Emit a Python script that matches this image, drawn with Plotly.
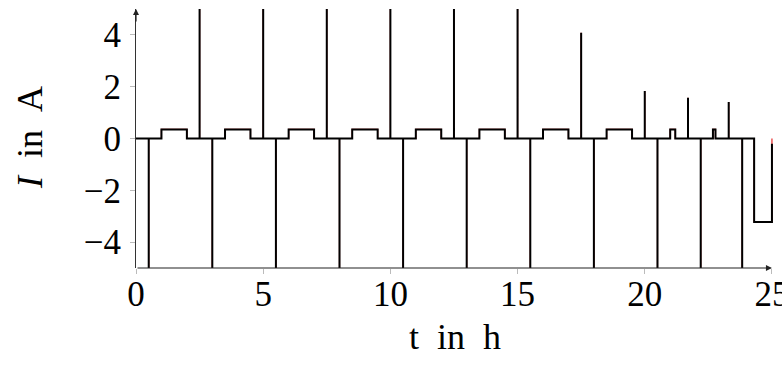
import plotly.graph_objects as go

# current profile I(t), drawn as a step line (hv); spikes are clipped by the axis range
t = [0, 0.5, 0.5, 1.0, 2.0, 2.5, 2.5,
     3.0, 3.0, 3.5, 4.5, 5.0, 5.0,
     5.5, 5.5, 6.0, 7.0, 7.5, 7.5,
     8.0, 8.0, 8.5, 9.5, 10.0, 10.0,
     10.5, 10.5, 11.0, 12.0, 12.5, 12.5,
     13.0, 13.0, 13.5, 14.5, 15.0, 15.0,
     15.5, 15.5, 16.0, 17.0, 17.5, 17.5,
     18.0, 18.0, 18.5, 19.5, 20.0, 20.0,
     20.5, 20.5, 21.0, 21.2, 21.7, 21.7,
     22.2, 22.2, 22.68, 22.78, 23.3, 23.3,
     23.83, 23.83, 24.3, 25.0]
I = [0, -6, 0, 0.35, 0, 6, 0,
     -6, 0, 0.35, 0, 6, 0,
     -6, 0, 0.35, 0, 6, 0,
     -6, 0, 0.35, 0, 6, 0,
     -6, 0, 0.35, 0, 6, 0,
     -6, 0, 0.35, 0, 6, 0,
     -6, 0, 0.35, 0, 4.08, 0,
     -6, 0, 0.35, 0, 1.83, 0,
     -6, 0, 0.35, 0, 1.57, 0,
     -6, 0, 0.35, 0, 1.41, 0,
     -6, 0, -3.22, 0]
I_black = I[:-1] + [-0.2]

x_ticks = [0, 5, 10, 15, 20, 25]
y_ticks = [-4, -2, 0, 2, 4]
x_max = 25.12   # a little room so the last vertical edge at t=25 is not clipped

fnt = '"Liberation Serif", "DejaVu Serif", serif'
px_per_h = 25.44
plot_w = x_max * px_per_h

fig = go.Figure()
fig.add_trace(go.Scatter(x=t, y=I, mode='lines', line_shape='hv',
                         line={'color': 'rgb(230,40,40)', 'width': 1.2},
                         showlegend=False, hoverinfo='skip'))
fig.add_trace(go.Scatter(x=t, y=I_black, mode='lines', line_shape='hv',
                         line={'color': 'black', 'width': 2},
                         showlegend=False, hoverinfo='skip'))

fig.update_layout(
    width=782, height=369,
    template='plotly_white',
    plot_bgcolor='white',
    paper_bgcolor='white',
    margin={'l': 136, 'r': 782 - 136 - plot_w, 't': 9, 'b': 101, 'autoexpand': False},
    font={'family': fnt, 'color': 'black'},
    xaxis={'range': [0, x_max],
           'tickvals': x_ticks,
           'ticktext': [str(v) for v in x_ticks],
           'tickfont': {'size': 35, 'family': fnt},
           'ticks': 'outside', 'ticklen': 5, 'tickcolor': '#bbbbbb', 'tickwidth': 1,
           'showline': False,
           'showgrid': False, 'zeroline': False, 'automargin': False,
           'ticklabeloverflow': 'allow',
           'ticklabelstandoff': -10},
    yaxis={'range': [-5, 5],
           'tickvals': y_ticks,
           'ticktext': ['\u2212' + str(-v) if v < 0 else str(v) for v in y_ticks],
           'tickfont': {'size': 35, 'family': fnt},
           'ticks': 'outside', 'ticklen': 5, 'tickcolor': '#bbbbbb', 'tickwidth': 1,
           'showline': True, 'linecolor': '#333333', 'linewidth': 1,
           'showgrid': False, 'zeroline': False, 'automargin': False,
           'ticklabelstandoff': 2},
    xaxis2={'range': [0, x_max], 'overlaying': 'x', 'anchor': 'y',
            'side': 'bottom', 'tickvals': x_ticks, 'showticklabels': False,
            'ticks': 'inside', 'ticklen': 5, 'tickcolor': '#bbbbbb', 'tickwidth': 1,
            'showgrid': False, 'zeroline': False, 'showline': False},
    yaxis2={'range': [-5, 5], 'overlaying': 'y', 'anchor': 'x',
            'side': 'left', 'tickvals': y_ticks, 'showticklabels': False,
            'ticks': 'inside', 'ticklen': 5, 'tickcolor': '#bbbbbb', 'tickwidth': 1,
            'showgrid': False, 'zeroline': False, 'showline': False},
)

# axis titles
fig.add_annotation(text='t\u2002in\u2002h', xref='paper', yref='paper',
                   x=(455 - 136) / plot_w, y=-(337 - 268) / 259,
                   xanchor='center', yanchor='middle', showarrow=False,
                   font={'size': 36, 'family': fnt})
fig.add_annotation(text='<i>I</i>\u2002in\u2002A', xref='paper', yref='paper',
                   x=-(136 - 30) / plot_w, y=(268 - 138) / 259, textangle=-90,
                   xanchor='center', yanchor='middle', showarrow=False,
                   font={'size': 36, 'family': fnt})

# pgfplots-style axis lines with arrows
fig.add_annotation(x=25, y=-5, xref='x', yref='y', axref='x', ayref='y', ax=0, ay=-5,
                   showarrow=True, arrowhead=2, arrowsize=1, arrowwidth=1.2,
                   arrowcolor='#222222', text='', standoff=0)
fig.add_annotation(x=0, y=5, xref='x', yref='y', ax=0, ay=14,
                   showarrow=True, arrowhead=2, arrowsize=1, arrowwidth=1.2,
                   arrowcolor='#222222', text='')

fig.write_html('out.html', config={'displayModeBar': False},
               post_script="document.body.style.margin='0';")
